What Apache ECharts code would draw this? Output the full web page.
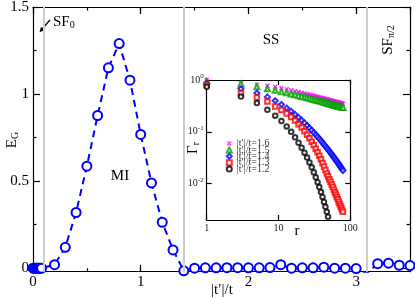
<!DOCTYPE html>
<html><head><meta charset="utf-8">
<script src="https://cdn.jsdelivr.net/npm/echarts@6/dist/echarts.min.js"></script>
<style>html,body{margin:0;padding:0;background:#fff}#c{width:415px;height:298px}</style>
</head><body><div id="c"></div>
<script>
// ---- main panel data: E_G vs |t'|/t ----
const mainX = [0,0.01,0.02,0.03,0.04,0.05,0.06,0.07,0.08,
  0.2,0.3,0.4,0.5,0.6,0.7,0.8,0.9,1.0,1.1,1.2,1.3,1.4,1.5,1.6,1.7,1.8,1.9,2.0,
  2.1,2.2,2.3,2.4,2.5,2.6,2.7,2.8,2.9,3.0,3.1,3.2,3.3,3.4,3.5];
const mainY = [0,0,0,0,0,0,0,0,0,
  0.02,0.12,0.32,0.586,0.877,1.151,1.29,1.08,0.768,0.49,0.264,0.105,-0.015,0.0,0.002,0.002,0.003,0.003,0.002,
  0.002,0.004,0.02,0.0,0.002,0.002,0.006,0.0,0.0,-0.002,-0.03,0.026,0.029,0.017,0.015];
const phaseLines = [0.1, 1.4, 3.1];
const xLabels = [0,1,2,3];
const yLabels = [0,0.5,1,1.5];

// ---- inset data: Gamma_r vs r ----
const rVals = [1,3,5,7,9,11,13,15,17,19,21,23,25,27,29,31,33,35,37,39,41,43,45,47,49,51,53,55,57,59,61,63,65,67,69,71,73,75,77,79];
const g16 = [1.0,0.87,0.81,0.776,0.745,0.70,0.664,0.634,0.610,0.587,0.569,0.551,0.536,0.521,0.508,0.497,0.485,0.475,0.466,0.457,0.449,0.441,0.433,0.426,0.419,0.412,0.406,0.401,0.395,0.390,0.385,0.380,0.376,0.372,0.367,0.363,0.360,0.356,0.352,0.348];
const g15 = [0.95,0.84,0.74,0.68,0.635,0.595,0.565,0.54,0.518,0.499,0.483,0.468,0.455,0.443,0.432,0.422,0.412,0.404,0.396,0.388,0.381,0.374,0.368,0.362,0.356,0.350,0.345,0.340,0.335,0.331,0.326,0.322,0.318,0.314,0.311,0.307,0.304,0.301,0.298,0.295];
const g14 = [0.86,0.676,0.560,0.472,0.398,0.337,0.288,0.249,0.217,0.190,0.168,0.149,0.133,0.119,0.108,0.0975,0.0883,0.0805,0.0738,0.0676,0.0622,0.0574,0.0531,0.0492,0.0457,0.0424,0.0396,0.0371,0.0346,0.0324,0.0305,0.0286,0.0269,0.0253,0.0239,0.0226,0.0213,0.0201,0.0191,0.0180];
const g13 = [0.80,0.557,0.459,0.385,0.309,0.264,0.226,0.193,0.165,0.141,0.121,0.103,0.0883,0.0755,0.0646,0.0552,0.0472,0.0404,0.0345,0.0295,0.0252,0.0216,0.0185,0.0158,0.0139,0.0122,0.0109,0.00966,0.00861,0.00769,0.00689,0.00618,0.00556,0.00501,0.00452,0.00407,0.00372,0.00339,0.00313,0.00288];
const g12 = [0.74,0.48,0.36,0.267,0.205,0.162,0.127,0.100,0.0785,0.0617,0.0495,0.0398,0.0320,0.0257,0.0207,0.0166,0.0133,0.0107,0.00861,0.00692,0.00556,0.00447,0.00359,0.00288,0.00232];
const insetNames = ['|t′|/t=1.6','|t′|/t=1.5','|t′|/t=1.4','|t′|/t=1.3','|t′|/t=1.2'];
const insetYLabels = [0.01,0.1,1];

const F = 'Liberation Serif';
const chart = echarts.init(document.getElementById('c'), null, {renderer:'canvas'});

function ax(o){
  const base = {type:'value', splitLine:{show:false},
    axisLine:{show:true,onZero:false,lineStyle:{color:'#000',width:1.2}},
    axisTick:{show:false}, axisLabel:{show:false}};
  return Object.assign(base, o);
}
function tk(len){ return {show:true, inside:true, length:len, lineStyle:{color:'#000',width:1.2}}; }
const HIDE = {show:false};

// geometry
const GL = 33, GT = 7, GW = 377, GH = 264.7;
const yMin = -0.02, yMax = 1.5;
const y0px = GH * yMax / (yMax - yMin);   // top .. y=0
const IL = 206.7, IT = 80, IW = 143.6, IH = 140;
const decade = IH / Math.log10(1/0.002);
const OB = {outerBoundsMode:'none', containLabel:false};

const option = {
  animation:false,
  backgroundColor:'#fff',
  grid:[
    Object.assign({left:GL, top:GT, width:GW, height:GH}, OB),        // 0 main data, major x ticks
    Object.assign({left:IL, top:IT, width:IW, height:IH}, OB),        // 1 inset data, x ticks
    Object.assign({left:GL, top:GT, width:GW, height:y0px}, OB),      // 2 main y ticks (0..1.5)
    Object.assign({left:IL, top:IT, width:IW, height:2*decade}, OB),  // 3 inset y ticks (0.01..1)
    Object.assign({left:GL, top:GT, width:GW, height:GH}, OB)         // 4 main minor x ticks
  ],
  xAxis:[
    ax({gridIndex:0, min:0, max:3.5, interval:1, position:'bottom', axisTick:tk(7),
      axisLabel:{show:true, customValues:xLabels, fontSize:15, fontFamily:F, color:'#000', margin:3}}),
    ax({gridIndex:0, min:0, max:3.5, interval:1, position:'top', axisTick:tk(7)}),
    ax({gridIndex:1, type:'log', logBase:10, min:1, max:100, position:'bottom', axisTick:tk(5),
      axisLabel:{show:true, fontSize:10, fontFamily:F, color:'#222', margin:3}}),
    ax({gridIndex:1, type:'log', logBase:10, min:1, max:100, position:'top', axisTick:tk(5)}),
    ax({gridIndex:2, min:0, max:3.5, position:'bottom', axisLine:HIDE}),
    ax({gridIndex:3, type:'log', logBase:10, min:1, max:100, position:'bottom', axisLine:HIDE}),
    ax({gridIndex:4, min:0, max:3.5, interval:0.5, position:'bottom', axisLine:HIDE, axisTick:tk(3.5)}),
    ax({gridIndex:4, min:0, max:3.5, interval:0.5, position:'top', axisLine:HIDE, axisTick:tk(3.5)})
  ],
  yAxis:[
    ax({gridIndex:0, min:yMin, max:yMax, position:'left',
      axisLabel:{show:true, customValues:yLabels, fontSize:15, fontFamily:F, color:'#000', margin:4}}),
    ax({gridIndex:0, min:yMin, max:yMax, position:'right'}),
    ax({gridIndex:1, type:'log', logBase:10, min:0.002, max:1, position:'left',
      axisLabel:{show:true, customValues:insetYLabels, margin:3,
        formatter:function(v){ const e=Math.round(Math.log10(v)); return '{b|10}{s|'+e+'}'; },
        rich:{b:{fontSize:10,fontFamily:F,color:'#222'}, s:{fontSize:7,fontFamily:F,color:'#222',padding:[0,0,7,0]}}}}),
    ax({gridIndex:1, type:'log', logBase:10, min:0.002, max:1, position:'right'}),
    ax({gridIndex:2, min:0, max:1.5, interval:0.5, position:'left', axisLine:HIDE, axisTick:tk(7),
      minorTick:{show:true, splitNumber:2, length:3.5, lineStyle:{color:'#000',width:1.2}}}),
    ax({gridIndex:2, min:0, max:1.5, interval:0.5, position:'right', axisLine:HIDE, axisTick:tk(7),
      minorTick:{show:true, splitNumber:2, length:3.5, lineStyle:{color:'#000',width:1.2}}}),
    ax({gridIndex:3, type:'log', logBase:10, min:0.01, max:1, position:'left', axisLine:HIDE, axisTick:tk(5)}),
    ax({gridIndex:3, type:'log', logBase:10, min:0.01, max:1, position:'right', axisLine:HIDE, axisTick:tk(5)}),
    ax({gridIndex:4, min:0, max:1, position:'left', axisLine:HIDE})
  ],
  legend:{
    data:insetNames, orient:'vertical', left:225.8, top:138.5, padding:0,
    itemWidth:5, itemHeight:5, itemGap:-3.6,
    itemStyle:{borderWidth:1},
    textStyle:{fontSize:10, fontFamily:F, color:'#333'}
  },
  series:[
    {type:'line', xAxisIndex:0, yAxisIndex:0, data:[], silent:true, z:1,
      markLine:{silent:true, symbol:'none', label:{show:false},
        lineStyle:{color:'#cccccc', width:2, type:'solid'},
        data:phaseLines.map(v=>({xAxis:v}))}},
    {type:'line', xAxisIndex:0, yAxisIndex:0, data:mainY.map((v,i)=>[mainX[i], v]), z:3,
      symbol:'emptyCircle', symbolSize:9, clip:true,
      itemStyle:{color:'#0000ff', borderWidth:1.5},
      lineStyle:{color:'#0000ff', width:2, type:[7,5]}},
    {name:insetNames[0], type:'scatter', xAxisIndex:2, yAxisIndex:2, data:g16.map((v,i)=>[rVals[i], v]),
      symbol:'path://M0,2L2,0L5,3L8,0L10,2L7,5L10,8L8,10L5,7L2,10L0,8L3,5Z', symbolSize:5, itemStyle:{color:'#ff00ff'}},
    {name:insetNames[1], type:'scatter', xAxisIndex:2, yAxisIndex:2, data:g15.map((v,i)=>[rVals[i], v]),
      symbol:'emptyTriangle', symbolSize:5, itemStyle:{color:'#00a000', borderWidth:1}},
    {name:insetNames[2], type:'scatter', xAxisIndex:2, yAxisIndex:2, data:g14.map((v,i)=>[rVals[i], v]),
      symbol:'emptyDiamond', symbolSize:5, itemStyle:{color:'#0000ff', borderWidth:1}},
    {name:insetNames[3], type:'scatter', xAxisIndex:2, yAxisIndex:2, data:g13.map((v,i)=>[rVals[i], v]),
      symbol:'emptyRect', symbolSize:4.5, itemStyle:{color:'#ff0000', borderWidth:1}},
    {name:insetNames[4], type:'scatter', xAxisIndex:2, yAxisIndex:2, data:g12.map((v,i)=>[rVals[i], v]),
      symbol:'emptyCircle', symbolSize:4.5, itemStyle:{color:'#000000', borderWidth:1}},
    // placeholder series so the tick helper grids are laid out
    {type:'scatter', xAxisIndex:4, yAxisIndex:4, data:[[1,1]], symbol:'none', silent:true},
    {type:'scatter', xAxisIndex:5, yAxisIndex:6, data:[[10,0.1]], symbol:'none', silent:true},
    {type:'scatter', xAxisIndex:6, yAxisIndex:8, data:[[1,0.5]], symbol:'none', silent:true}
  ],
  graphic:[
    {type:'text', x:12, y:140, rotation:Math.PI/2,
      style:{text:'{a|E}{b|G}', align:'center', verticalAlign:'middle',
        rich:{a:{fontSize:15,fontFamily:F,fill:'#000'}, b:{fontSize:10,fontFamily:F,fill:'#000',padding:[7,0,0,0]}}}},
    {type:'text', x:222, y:290, style:{text:'|t′|/t', font:'15px "Liberation Serif"', fill:'#000', align:'center', verticalAlign:'middle'}},
    {type:'text', x:53, y:22, style:{text:'{a|SF}{b|0}', align:'left', verticalAlign:'middle',
        rich:{a:{fontSize:15,fontFamily:F,fill:'#000'}, b:{fontSize:10,fontFamily:F,fill:'#000',padding:[7,0,0,0]}}}},
    {type:'line', shape:{x1:50, y1:20, x2:42, y2:29}, style:{stroke:'#000', lineWidth:1.3}},
    {type:'polygon', shape:{points:[[39.5,32.3],[44.7,30.1],[40.9,26.9]]}, style:{fill:'#000'}},
    {type:'text', x:120, y:176, style:{text:'MI', font:'15px "Liberation Serif"', fill:'#000', align:'center', verticalAlign:'middle'}},
    {type:'text', x:271, y:40, style:{text:'SS', font:'15px "Liberation Serif"', fill:'#000', align:'center', verticalAlign:'middle'}},
    {type:'text', x:388, y:40, rotation:Math.PI/2,
      style:{text:'{a|SF}{b|π/2}', align:'center', verticalAlign:'middle',
        rich:{a:{fontSize:15,fontFamily:F,fill:'#000'}, b:{fontSize:10,fontFamily:F,fill:'#000',padding:[7,0,0,0]}}}},
    {type:'text', x:193, y:148, rotation:Math.PI/2,
      style:{text:'{a|Γ}{b|r}', align:'center', verticalAlign:'middle',
        rich:{a:{fontSize:15,fontFamily:F,fill:'#000'}, b:{fontSize:10,fontFamily:F,fill:'#000',padding:[7,0,0,0]}}}},
    {type:'text', x:297, y:231, style:{text:'r', font:'15px "Liberation Serif"', fill:'#000', align:'center', verticalAlign:'middle'}}
  ]
};
chart.setOption(option);
</script></body></html>
